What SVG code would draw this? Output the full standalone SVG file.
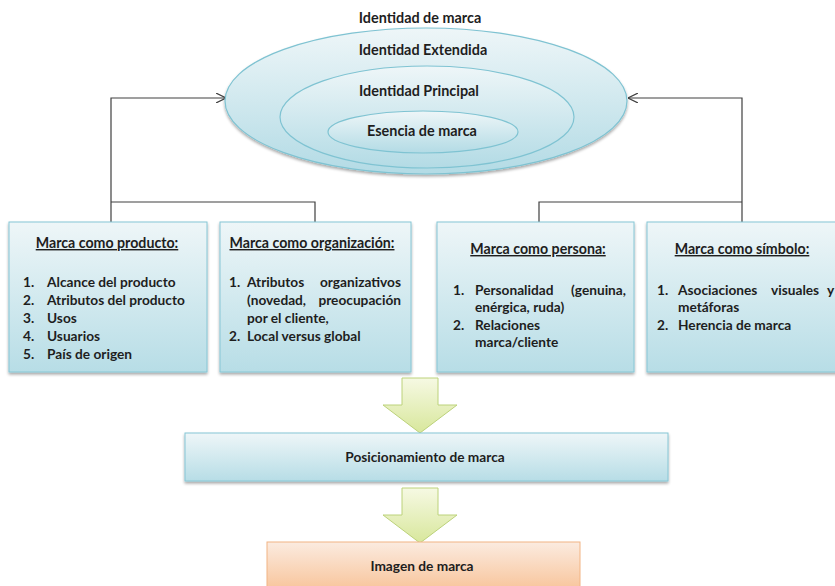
<svg xmlns="http://www.w3.org/2000/svg" width="835" height="586" viewBox="0 0 835 586">
<defs>
<linearGradient id="gBlue" x1="0" y1="0" x2="0" y2="1">
<stop offset="0" stop-color="#eef6f8"/>
<stop offset="1" stop-color="#b7dde6"/>
</linearGradient>
<linearGradient id="gEll" x1="0" y1="0" x2="0" y2="1">
<stop offset="0" stop-color="#eef6f8"/>
<stop offset="1" stop-color="#b3dbe5"/>
</linearGradient>
<linearGradient id="gArrow" x1="0" y1="0" x2="0" y2="1">
<stop offset="0" stop-color="#f6f9e3"/>
<stop offset="1" stop-color="#d8e79c"/>
</linearGradient>
<linearGradient id="gOrange" x1="0" y1="0" x2="0" y2="1">
<stop offset="0" stop-color="#fbebe0"/>
<stop offset="1" stop-color="#f8c398"/>
</linearGradient>
<filter id="sh" x="-10%" y="-10%" width="120%" height="130%">
<feGaussianBlur in="SourceAlpha" stdDeviation="1.5"/>
<feOffset dx="0" dy="2" result="b"/>
<feComponentTransfer><feFuncA type="linear" slope="0.35"/></feComponentTransfer>
<feMerge><feMergeNode/><feMergeNode in="SourceGraphic"/></feMerge>
</filter>
<marker id="open" viewBox="0 0 10 10" refX="10" refY="5" markerWidth="10" markerHeight="10" markerUnits="userSpaceOnUse" orient="auto">
<path d="M0,0 L10,5 L0,10" fill="none" stroke="#404040" stroke-width="1.2"/>
</marker>
</defs>
<style>
text{font-family:Lato,"Open Sans","Liberation Sans",sans-serif;font-size:13.7px;font-weight:bold;fill:#1e1e1e}
.c{text-anchor:middle}
.e{text-anchor:end}
.u{text-decoration:underline;font-size:14.2px}
.big{font-size:14.4px}
.box{fill:url(#gBlue);stroke:#86c6d5;stroke-width:1}
.ell{fill:url(#gEll);stroke:#7fc3d2;stroke-width:1.2}
.arr{fill:url(#gArrow);stroke:#bcd27a;stroke-width:1}
.con{fill:none;stroke:#404040;stroke-width:1.2}
</style>
<rect width="835" height="586" fill="#ffffff"/>

<g id="connectors">
<polyline class="con" points="111,222 111,98 226,98" marker-end="url(#open)"/>
<polyline class="con" points="111,202 315,202 315,222"/>
<polyline class="con" points="742,222 742,98 628,98" marker-end="url(#open)"/>
<polyline class="con" points="539,222 539,202 742,202"/>
</g>

<g id="identidad">
<text class="c big" x="420" y="23">Identidad de marca</text>
<ellipse class="ell" cx="426" cy="101" rx="201" ry="73" filter="url(#sh)"/>
<text class="c big" x="423" y="55">Identidad Extendida</text>
<ellipse class="ell" cx="427" cy="117" rx="147" ry="51"/>
<text class="c big" x="419" y="96">Identidad Principal</text>
<ellipse class="ell" cx="423" cy="132" rx="95" ry="21"/>
<text class="c big" x="422" y="136">Esencia de marca</text>
</g>

<g id="producto">
<rect class="box" x="9" y="222" width="198" height="150" filter="url(#sh)"/>
<text class="c u" x="107" y="248">Marca como producto:</text>
<text x="23" y="287">1.</text><text x="47" y="287">Alcance del producto</text>
<text x="23" y="305">2.</text><text x="47" y="305">Atributos del producto</text>
<text x="23" y="323">3.</text><text x="47" y="323">Usos</text>
<text x="23" y="341">4.</text><text x="47" y="341">Usuarios</text>
<text x="23" y="359">5.</text><text x="47" y="359">País de origen</text>
</g>

<g id="organizacion">
<rect class="box" x="220" y="222" width="191" height="150" filter="url(#sh)"/>
<text class="c u" x="312" y="248">Marca como organización:</text>
<text x="229" y="287">1.</text><text x="247" y="287">Atributos</text><text class="e" x="401" y="287">organizativos</text>
<text x="247" y="305">(novedad,</text><text class="e" x="401" y="305">preocupación</text>
<text x="247" y="323">por el cliente,</text>
<text x="229" y="341">2.</text><text x="247" y="341">Local versus global</text>
</g>

<g id="persona">
<rect class="box" x="437" y="222" width="197" height="150" filter="url(#sh)"/>
<text class="c u" x="538" y="254">Marca como persona:</text>
<text x="453" y="295">1.</text><text x="475" y="295">Personalidad</text><text class="e" x="626" y="295">(genuina,</text>
<text x="475" y="312">enérgica, ruda)</text>
<text x="453" y="330">2.</text><text x="475" y="330">Relaciones</text>
<text x="475" y="347">marca/cliente</text>
</g>

<g id="simbolo">
<rect class="box" x="647" y="222" width="200" height="150" filter="url(#sh)"/>
<text class="c u" x="742" y="254">Marca como símbolo:</text>
<text x="657" y="295">1.</text><text x="678" y="295">Asociaciones</text><text x="771" y="295">visuales</text><text x="827" y="295">y</text>
<text x="678" y="312">metáforas</text>
<text x="657" y="330">2.</text><text x="678" y="330">Herencia de marca</text>
</g>

<g id="flecha1">
<path class="arr" d="M402,378 L438,378 L438,405 L457,405 L420,433 L383,405 L402,405 Z"/>
</g>

<g id="posicionamiento">
<rect class="box" x="185" y="433" width="483" height="48" filter="url(#sh)"/>
<text class="c" x="425" y="462">Posicionamiento de marca</text>
</g>

<g id="flecha2">
<path class="arr" d="M402,488 L438,488 L438,515 L457,515 L420,543 L383,515 L402,515 Z"/>
</g>

<g id="imagen">
<rect x="267" y="542" width="313" height="50" fill="url(#gOrange)" stroke="#f2b483" stroke-width="1"/>
<text class="c" x="422" y="571">Imagen de marca</text>
</g>
</svg>
